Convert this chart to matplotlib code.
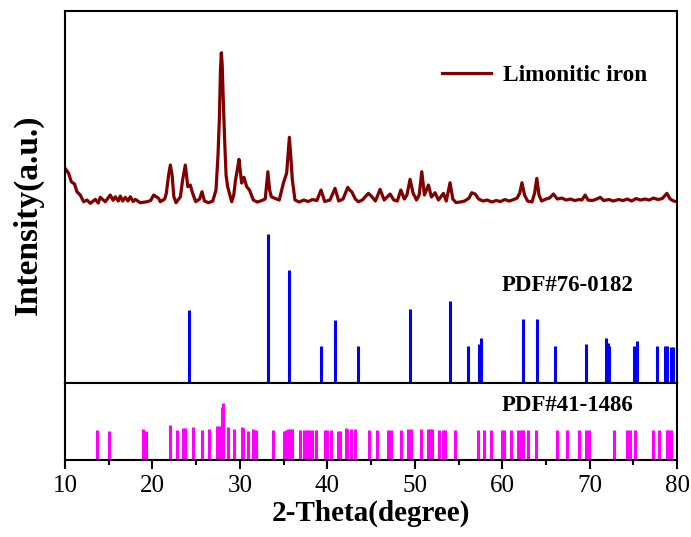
"""XRD pattern of limonitic iron with two reference cards below it."""

import matplotlib
import numpy as np

matplotlib.use("Agg")
import matplotlib.pyplot as plt

plt.rcParams["font.family"] = ["Liberation Serif", "DejaVu Serif"]

# measured pattern: 2-theta (degree) and counts
two_theta = [
    10.0, 10.42, 10.72, 11.1, 11.37, 11.75, 12.13, 12.52, 12.9, 13.47, 13.8, 14.04,
    14.61, 15.18, 15.5, 15.75, 16.1, 16.33, 16.6, 16.9, 17.2, 17.47, 17.8, 18.04,
    18.61, 19.38, 19.8, 20.14, 20.72, 20.9, 21.4, 21.59, 21.85, 22.05, 22.25, 22.45,
    22.7, 23.2, 23.45, 23.76, 24.05, 24.33, 24.6, 24.95, 25.4, 25.67, 25.95, 26.4,
    26.9, 27.27, 27.5, 27.65, 27.78, 27.88, 27.98, 28.12, 28.28, 28.42, 28.6, 28.8,
    29.07, 29.3, 29.5, 29.7, 29.9, 30.1, 30.2, 30.47, 30.78, 31.1, 31.54, 32.0,
    32.5, 32.9, 33.05, 33.2, 33.4, 33.6, 34.0, 34.5, 34.97, 35.35, 35.66, 35.85,
    36.0, 36.3, 36.8, 37.3, 37.8, 38.3, 38.8, 39.28, 39.7, 40.3, 40.88, 41.3,
    41.8, 42.33, 42.55, 42.79, 43.2, 43.55, 44.0, 44.69, 45.1, 45.5, 46.03, 46.5,
    47.17, 47.6, 48.0, 48.4, 48.8, 49.1, 49.46, 49.8, 50.2, 50.5, 50.8, 51.1,
    51.56, 51.9, 52.32, 52.7, 53.27, 53.6, 54.03, 54.35, 54.7, 55.2, 55.7, 56.2,
    56.51, 56.9, 57.3, 57.8, 58.3, 58.8, 59.3, 59.8, 60.3, 60.8, 61.3, 61.7,
    62.0, 62.25, 62.55, 62.9, 63.4, 63.7, 63.95, 64.2, 64.5, 65.0, 65.4, 65.85,
    66.3, 66.8, 67.3, 67.8, 68.3, 68.8, 69.1, 69.48, 69.8, 70.3, 70.8, 71.2,
    71.6, 72.2, 72.7, 73.3, 73.8, 74.3, 74.8, 75.3, 75.8, 76.3, 76.8, 77.3,
    77.8, 78.3, 78.82, 79.2, 79.6, 80.0,
]
counts = [
    370, 317, 233, 210, 133, 100, 33, 50, 17, 57, 20, 77,
    33, 100, 47, 83, 40, 90, 40, 77, 40, 83, 35, 57,
    23, 33, 45, 100, 67, 33, 60, 117, 300, 400, 300, 83,
    23, 83, 250, 400, 183, 200, 117, 33, 60, 133, 40, 23,
    40, 150, 500, 850, 1350, 1523, 1400, 1000, 600, 300, 183, 120,
    33, 100, 250, 350, 457, 300, 220, 277, 183, 150, 50, 30,
    45, 60, 200, 333, 150, 83, 67, 50, 217, 320, 677, 450,
    250, 50, 30, 50, 35, 55, 45, 150, 35, 50, 167, 40,
    60, 177, 150, 133, 60, 33, 50, 117, 83, 40, 157, 50,
    110, 50, 40, 150, 60, 100, 257, 120, 50, 100, 333, 100,
    200, 80, 123, 50, 117, 40, 223, 60, 25, 30, 40, 70,
    123, 110, 60, 40, 50, 30, 45, 35, 55, 40, 55, 70,
    120, 223, 100, 40, 30, 120, 267, 100, 40, 60, 70, 110,
    60, 70, 50, 60, 45, 55, 50, 100, 50, 45, 60, 77,
    45, 55, 40, 55, 45, 60, 40, 65, 50, 60, 50, 70,
    55, 65, 117, 60, 40, 33,
]

# PDF#76-0182 reference lines (relative intensity)
pdf76_pos = [24.18, 33.18, 35.66, 39.28, 40.88, 43.47, 49.46, 54.03, 56.13, 57.35,
             57.55, 62.42, 63.99, 66.0, 69.55, 71.84, 72.06, 72.25, 75.08, 75.39,
             77.67, 78.66, 78.82, 79.31, 79.5]
pdf76_int = [49, 100, 76, 25, 42, 25, 50, 55, 25, 26,
             30, 43, 43, 25, 26, 30, 27, 25, 25, 28,
             25, 25, 25, 24, 24]

# PDF#41-1486 reference lines (relative intensity)
pdf41_pos = [13.62, 15.07, 18.96, 19.26, 22.01, 22.77, 23.53, 23.76, 24.60, 25.71,
             26.47, 27.35, 27.65, 27.92, 28.11, 28.61, 29.37, 30.21, 30.39, 30.97,
             31.54, 31.81, 33.75, 35.05, 35.28, 35.47, 35.73, 35.93, 36.88, 37.37,
             37.64, 37.94, 38.22, 38.71, 39.74, 39.93, 40.39, 41.26, 41.45, 42.14,
             42.29, 42.68, 43.17, 44.73, 45.65, 46.98, 47.25, 48.43, 49.27, 49.57,
             50.72, 51.56, 51.75, 51.94, 52.78, 53.27, 53.46, 54.61, 57.28, 57.92,
             58.69, 59.95, 60.21, 60.98, 61.85, 62.12, 62.42, 62.92, 63.87, 66.24,
             67.38, 68.83, 69.55, 69.93, 72.79, 74.24, 74.62, 75.19, 77.22, 77.94,
             78.82, 79.0, 79.28]
pdf41_int = [53, 51, 54, 51, 61, 53, 56, 56, 57, 53,
             54, 60, 60, 93, 100, 57, 54, 58, 56, 51,
             54, 53, 53, 51, 53, 54, 54, 54, 53, 52,
             52, 52, 52, 52, 52, 52, 52, 51, 51, 56,
             54, 54, 54, 52, 52, 53, 53, 53, 54, 54,
             55, 55, 55, 54, 53, 53, 53, 52, 53, 53,
             53, 53, 53, 53, 53, 53, 53, 53, 53, 53,
             53, 53, 53, 53, 53, 53, 53, 53, 53, 53,
             53, 53, 53]

fig = plt.figure(figsize=(6.91, 5.37), dpi=100)
ax_top = fig.add_axes([0.094, 0.2868, 0.886, 0.6927])
ax_bot = fig.add_axes([0.094, 0.1434, 0.886, 0.1434], sharex=ax_top)

# pattern is lifted above the stick lines of the first card
offset, scale = 119.6, 0.0672
ax_top.plot(two_theta, offset + scale * np.asarray(counts), color="#800000",
            lw=2.3, label="Limonitic iron")
ax_top.vlines(pdf76_pos, 0, pdf76_int, color="#0000FF", lw=2.2)
ax_top.set_ylim(0, 250)
ax_top.text(59.94, 65.2, "PDF#76-0182", fontsize=16.5, fontweight="bold",
            ha="left", va="center")
ax_top.legend(loc="center left", bbox_to_anchor=(0.639, 0.8594),
              bbox_transform=fig.transFigure, frameon=False, borderpad=0,
              borderaxespad=0, handlelength=2.1, handletextpad=0.55,
              prop={"size": 16.8, "weight": "bold"})

ax_bot.vlines(pdf41_pos, 0, pdf41_int, color="#FF00FF", lw=2.2)
ax_bot.set_ylim(0, 135)
ax_bot.text(59.94, 94.7, "PDF#41-1486", fontsize=16.5, fontweight="bold",
            ha="left", va="center")

ax_bot.set_xlim(10, 80)
ax_bot.set_xticks(np.arange(10, 81, 10))
ax_bot.set_xticks(np.arange(15, 80, 10), minor=True)
ax_bot.tick_params(axis="x", which="major", direction="out", length=6.5, width=1.5,
                   labelsize=18, pad=4)
ax_bot.tick_params(axis="x", which="minor", direction="out", length=3.6, width=1.5)
ax_bot.set_yticks([])
ax_top.set_yticks([])
ax_top.tick_params(axis="x", which="both", bottom=False, labelbottom=False)

for ax in (ax_top, ax_bot):
    for spine in ax.spines.values():
        spine.set_linewidth(1.5)

ax_bot.set_xlabel("2-Theta(degree)", fontsize=21, fontweight="bold", labelpad=2)
fig.text(0.041, 0.6, "Intensity(a.u.)", rotation=90, fontsize=24,
         fontweight="bold", ha="center", va="center")

fig.savefig("out.png", dpi=100)
plt.close(fig)
